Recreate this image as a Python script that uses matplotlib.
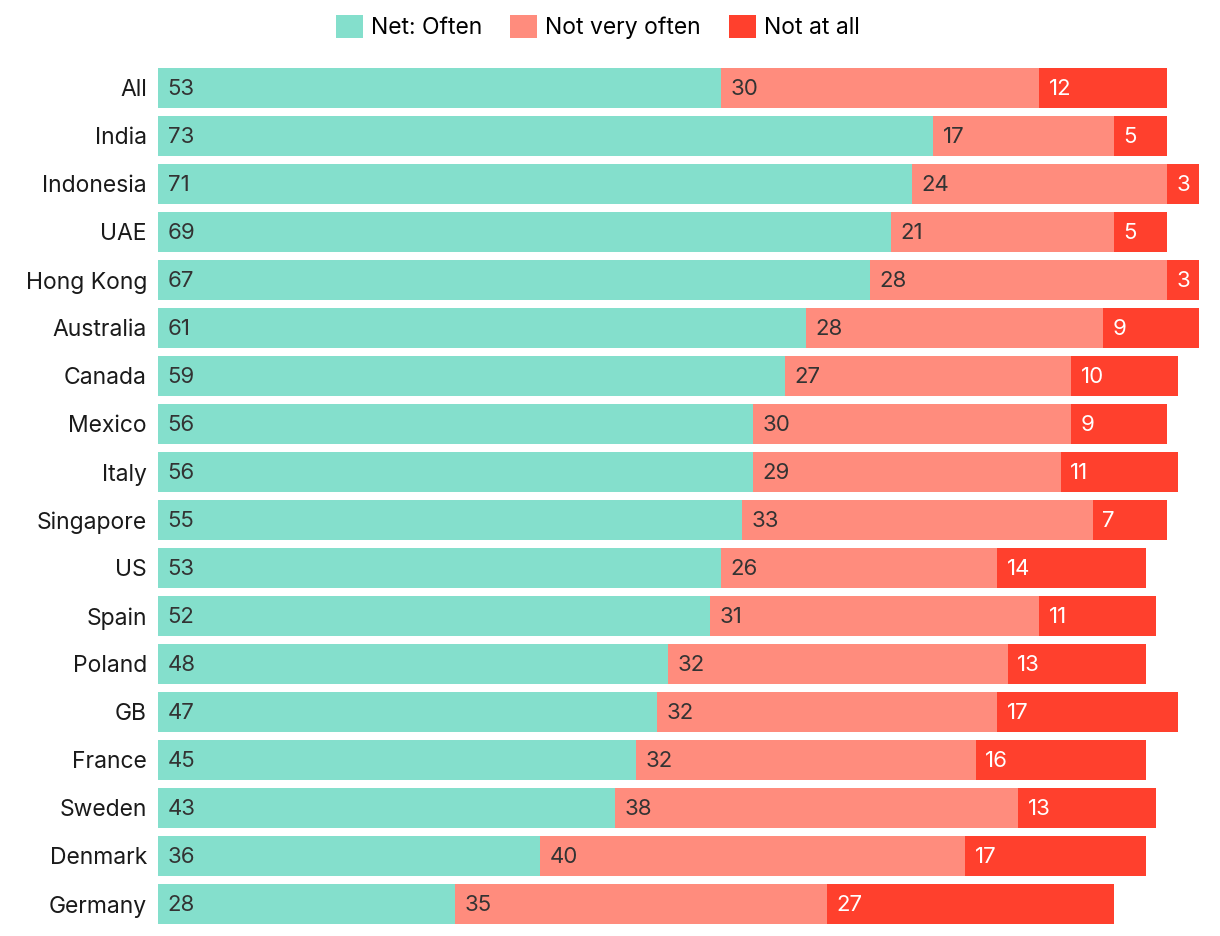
import matplotlib
matplotlib.use("Agg")
import matplotlib.pyplot as plt
import numpy as np

plt.rcParams['font.family'] = ['Inter', 'DejaVu Sans']

countries = ["All", "India", "Indonesia", "UAE", "Hong Kong", "Australia", "Canada",
             "Mexico", "Italy", "Singapore", "US", "Spain", "Poland", "GB", "France",
             "Sweden", "Denmark", "Germany"]
often = [53, 73, 71, 69, 67, 61, 59, 56, 56, 55, 53, 52, 48, 47, 45, 43, 36, 28]
not_very = [30, 17, 24, 21, 28, 28, 27, 30, 29, 33, 26, 31, 32, 32, 32, 38, 40, 35]
not_at_all = [12, 5, 3, 5, 3, 9, 10, 9, 11, 7, 14, 11, 13, 17, 16, 13, 17, 27]

series = [("Net: Often", often, "#84DFCC", "#333333"),
          ("Not very often", not_very, "#FF8C7D", "#333333"),
          ("Not at all", not_at_all, "#FF402D", "white")]

fig = plt.figure(figsize=(12.2, 9.36), dpi=100)
ax = fig.add_axes([158/1220, 1 - 928/936, 1062/1220, 864/936])

y = np.arange(len(countries))
left = np.zeros(len(countries))
handles = []
for name, vals, color, tcol in series:
    vals = np.array(vals, dtype=float)
    b = ax.barh(y, vals, left=left, height=0.83, color=color, label=name, linewidth=0)
    handles.append(b)
    for yi, l, v in zip(y, left, vals):
        ax.text(l + 0.9, yi + 0.03, f"{int(v)}", va='center', ha='left', fontsize=16,
                color=tcol)
    left = left + vals

ax.set_xlim(0, 100)
ax.set_ylim(len(countries) - 0.5, -0.5)
ax.set_yticks(y)
ax.set_yticklabels(countries, fontsize=16.5, color="#1a1a1a")
ax.tick_params(axis='y', length=0, pad=8)
ax.set_xticks([])
for s in ax.spines.values():
    s.set_visible(False)

fig.legend(handles=handles, loc='upper center', bbox_to_anchor=(0.49, 1.006), ncol=3,
           frameon=False, fontsize=16.5, handlelength=1.2, handleheight=1.2,
           handletextpad=0.35, columnspacing=1.2)

fig.savefig("out.png", dpi=100)
